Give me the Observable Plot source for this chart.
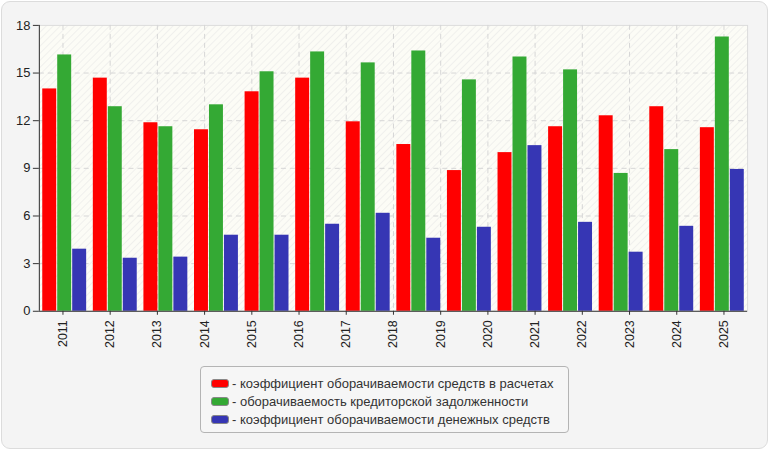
<!DOCTYPE html>
<html>
<head>
<meta charset="utf-8">
<script src="https://cdn.jsdelivr.net/npm/d3@7"></script>
<script src="https://cdn.jsdelivr.net/npm/@observablehq/plot@0.6"></script>
<style>
  html, body { margin: 0; padding: 0; background: #ffffff; }
  #panel {
    position: absolute; left: 1px; top: 1px; width: 765px; height: 446px;
    background: #f4f4f4; border: 1px solid #dcdcdc; border-radius: 9px;
    font-family: "Liberation Sans", Arial, sans-serif;
  }
  #chart { position: absolute; left: -2px; top: -2px; }
  #legend {
    position: absolute; left: 198px; top: 364px; width: 367px; height: 65px;
    border: 1px solid #b4b4b4; border-radius: 4px; background: #f6f6f6;
    font-size: 13px; color: #333;
  }
  .row { position: absolute; left: 10px; height: 18px; line-height: 18px; white-space: nowrap; }
  .sw { display: inline-block; width: 16px; height: 7px; border: 1px solid #888; border-radius: 3px; vertical-align: middle; margin-right: 3px; position: relative; top: -1px; }
</style>
</head>
<body>
<div id="panel">
  <div id="chart"></div>
  <div id="legend"></div>
</div>
<script>
const years = [2011, 2012, 2013, 2014, 2015, 2016, 2017, 2018, 2019, 2020, 2021, 2022, 2023, 2024, 2025];
const seriesNames = [
  "коэффициент оборачиваемости средств в расчетах",
  "оборачиваемость кредиторской задолженности",
  "коэффициент оборачиваемости денежных средств"
];
const seriesColors = ["#ff0000", "#34a934", "#3636b4"];
const redValues   = [14.0, 14.68, 11.87, 11.43, 13.82, 14.68, 11.93, 10.5, 8.86, 9.99, 11.62, 12.31, 12.88, 11.56];
const greenValues = [16.14, 12.88, 11.62, 13.0, 15.08, 16.33, 15.64, 16.39, 14.57, 16.01, 15.2, 8.68, 10.18, 17.27];
const blueValues  = [3.91, 3.34, 3.41, 4.79, 4.79, 5.48, 6.17, 4.6, 5.29, 10.43, 5.6, 3.72, 5.35, 8.93];
const yTicks = [0, 3, 6, 9, 12, 15, 18];

const allSeries = [redValues, greenValues, blueValues];
const nGroups = redValues.length;
const groupW = years.length / nGroups;       // x units per bar group
const padF = 0.067, barF = 0.276, gapF = 0.02; // fractions of a group

const data = [];
allSeries.forEach((vals, s) => {
  vals.forEach((v, g) => {
    const x1 = g * groupW + groupW * (padF + s * (barF + gapF));
    data.push({ s, name: seriesNames[s], g, value: v, x1, x2: x1 + groupW * barF });
  });
});

const xTickPos = years.map((y, i) => i + 0.5);
const yearAt = new Map(xTickPos.map((p, i) => [p, String(years[i])]));

const plot = Plot.plot({
  width: 770,
  height: 360,
  marginLeft: 39,
  marginRight: 20,
  marginTop: 25,
  marginBottom: 48,
  style: { background: "transparent", fontFamily: "'Liberation Sans', Arial, sans-serif", fontSize: "12.5px", color: "#222" },
  x: { type: "linear", domain: [0, years.length], axis: null, label: null },
  y: { domain: [0, 18], axis: null, label: null },
  color: { domain: [0, 1, 2], range: seriesColors },
  marks: [
    Plot.frame({ fill: "url(#hatch)", stroke: "#dcdcdc" }),
    Plot.gridY(yTicks.filter(d => d > 0 && d < 18), { stroke: "#d6d6d6", strokeOpacity: 1, strokeDasharray: "5,4" }),
    Plot.gridX(xTickPos, { stroke: "#d6d6d6", strokeOpacity: 1, strokeDasharray: "5,4" }),
    Plot.rectY(data, { x1: "x1", x2: "x2", y1: 0, y2: "value", fill: "s", title: "name" }),
    Plot.axisY(yTicks, { label: null, tickSize: 6, tickPadding: 3, stroke: "#333", fontSize: 13 }),
    Plot.ruleX([0], { stroke: "#333" }),
    Plot.ruleY([0], { stroke: "#333" }),
    Plot.axisX(xTickPos, { label: null, tickSize: 4, tickPadding: 5, tickRotate: -90, tickFormat: d => yearAt.get(d), stroke: "#333", fontSize: 12.5 })
  ]
});

// hatch pattern for the plot background
const ns = "http://www.w3.org/2000/svg";
const defs = document.createElementNS(ns, "defs");
defs.innerHTML = `<pattern id="hatch" patternUnits="userSpaceOnUse" width="5" height="5" patternTransform="rotate(45)">
  <rect width="5" height="5" fill="#fcfcf6"></rect>
  <line x1="0" y1="0" x2="0" y2="5" stroke="#ececea" stroke-width="1.4"></line>
</pattern>`;
plot.insertBefore(defs, plot.firstChild);
document.getElementById("chart").appendChild(plot);

const legend = document.getElementById("legend");
seriesNames.forEach((name, i) => {
  const row = document.createElement("div");
  row.className = "row";
  row.style.top = (8 + i * 18) + "px";
  row.innerHTML = `<span class="sw" style="background:${seriesColors[i]}"></span>- ${name}`;
  legend.appendChild(row);
});
</script>
</body>
</html>
